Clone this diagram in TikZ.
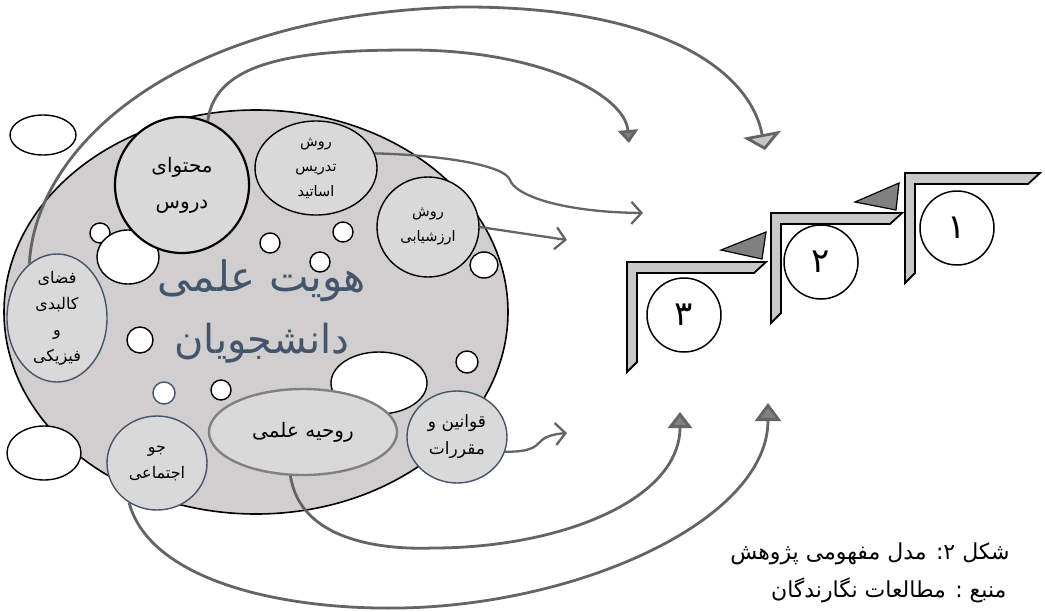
\documentclass[tikz,border=0pt]{standalone}
\usepackage{fontspec}
\usetikzlibrary{shapes.geometric,arrows.meta}
\newfontfamily\fafont[Script=Arabic]{DejaVu Sans}
\TeXXeTstate=1

\definecolor{bodygray}{RGB}{208,206,207}
\definecolor{topicgray}{RGB}{217,217,217}
\definecolor{slate}{RGB}{68,84,106}
\definecolor{linkgray}{RGB}{100,100,100}
\definecolor{tipgray}{RGB}{128,128,128}
\definecolor{stepgray}{RGB}{200,200,200}

\tikzset{
  hole/.style={ellipse,draw=black,fill=white,line width=1.4pt,inner sep=0pt},
  topic/.style={ellipse,fill=topicgray,line width=1.4pt,inner sep=0pt},
  lbl/.style={align=center,font=\fafont\fontsize{14.5}{25}\selectfont},
  biglbl/.style={align=center,font=\fafont\fontsize{16}{26}\selectfont},
  link/.style={draw=linkgray,line width=2.8pt},
}

\begin{document}
\begin{tikzpicture}[x=1pt,y=-1pt]
\useasboundingbox (0,0) rectangle (1045,611);

            % Main body
            \node[ellipse,draw=black,fill=bodygray,line width=1.6pt,minimum width=504,minimum height=404] (body) at (256,312) {};

            % White holes, inside and outside the body
            \foreach \x/\y/\rx/\ry [count=\i] in {
            43/135/33/20, 44/453/37/27,
            100/233/10/10, 128/257/31/27, 270/243/10/10, 320/262/10/10,
            343/232/10/10, 484/265/14/13, 140/340/13/13, 221/390/10/10,
            467/362/11/11, 379/383/48/31} {
            \node[hole,minimum width=2*\rx,minimum height=2*\ry] (h\i) at (\x,\y) {};
            }
            \node[hole,draw=slate,minimum size=22] (h13) at (164,393) {};

            % Topics
            \node[topic,draw=black,line width=2.2pt,minimum width=134,minimum height=136,
              label={[lbl,font=\fafont\fontsize{20}{36}\selectfont]center:{\beginR محتوای\endR\\\beginR دروس\endR}}] (mohtava) at (182,185) {};
            \node[topic,draw=black,minimum width=122,minimum height=94,
              label={[lbl]center:{\beginR روش\endR\\\beginR تدریس\endR\\\beginR اساتید\endR}}] (tadris) at (316,168) {};
            \node[topic,draw=black,minimum width=102,minimum height=100,
              label={[lbl]center:{\beginR روش\endR\\\beginR ارزشیابی\endR}}] (arzesh) at (428,227) {};
            \node[topic,draw=slate,minimum width=100,minimum height=128,
              label={[biglbl]center:{\beginR فضای\endR\\\beginR کالبدی\endR\\\beginR و\endR\\\beginR فیزیکی\endR}}] (fazaa) at (57,318) {};
            \node[topic,draw=slate,minimum width=100,minimum height=94,
              label={[biglbl]center:{\beginR جو\endR\\\beginR اجتماعی\endR}}] (jav) at (157,463) {};
            \node[topic,draw=tipgray,line width=2.4pt,minimum width=188,minimum height=86,
              label={[lbl,font=\fafont\fontsize{20}{24}\selectfont]center:{\beginR روحیه علمی\endR}}] (rouhie) at (303,432) {};
            \node[topic,draw=slate,minimum width=100,minimum height=92,
              label={[biglbl,font=\fafont\fontsize{17}{27}\selectfont]center:{\beginR قوانین و\endR\\\beginR مقررات\endR}}] (ghavanin) at (457,437) {};

            % Title
            \node[font=\fafont\fontsize{42}{50}\selectfont,text=slate] (title1) at (262,281) {\beginR هویت علمی\endR};
            \node[font=\fafont\fontsize{40}{50}\selectfont,text=slate] (title2) at (262,343) {\beginR دانشجویان\endR};

            % Steps
            \foreach \sx/\sy/\len/\cx/\cy/\num/\nm in {
            627/262/139/684/315/۳/s3,
            771/213/131/821/262/۲/s2,
            905/173/135/957/228/۱/s1} {
            \draw[fill=stepgray,line width=1.8pt,line join=miter]
              (\sx,\sy) -- ++(\len,0) -- ++(-12,11) -- (\sx+10,\sy+11)
              -- (\sx+10,\sy+100) -- (\sx,\sy+110) -- cycle;
            \node[circle,draw=black,fill=white,line width=1.5pt,minimum size=74,
              font=\fafont\fontsize{34}{38}\selectfont] (\nm) at (\cx,\cy) {\num};
            }
            \draw[fill=tipgray,line width=1.2pt] (721,250) -- (766,232) -- (762,259) -- cycle;
            \draw[fill=tipgray,line width=1.2pt] (855,202) -- (899,183) -- (896,210) -- cycle;

            % Arrow ends
            \coordinate (e1) at (629,143);
            \coordinate (e2) at (765,150);
            \coordinate (e3) at (643,213);
            \coordinate (e4) at (567,240);
            \coordinate (e5) at (567,433);
            \coordinate (e6) at (680,412);
            \coordinate (e7) at (768,403);

            % Arrows over the top
            \draw[link,-{Triangle[length=13pt,width=20pt,fill=tipgray]}] (mohtava.68)
              .. controls (215,60) and (300,50) .. (410,50) .. controls (540,50) and (625,95) .. (e1);
            \draw[link,-{Triangle[length=16pt,width=38pt,fill=stepgray]}] (fazaa.117)
              .. controls (35,150) and (170,15) .. (460,7) .. controls (660,6) and (750,70) .. (e2);

            % Arrows to the right
            \draw[link,line width=2.3pt,-{Straight Barb[length=10pt,width=22pt]}] (tadris.14)
              .. controls (440,155) and (505,165) .. (510,180) .. controls (515,195) and (560,212) .. (e3);
            \draw[link,line width=2.3pt,-{Straight Barb[length=10pt,width=22pt]}] (arzesh.east) -- (e4);
            \draw[link,line width=2.3pt,-{Straight Barb[length=10pt,width=22pt]}] (ghavanin.-17)
              .. controls (530,452) and (535,447) .. (540,442) .. controls (545,436) and (555,434) .. (e5);

            % Arrows under the bottom
            \draw[link,-{Triangle[length=16pt,width=24pt,fill=tipgray]}] (rouhie.254)
              .. controls (300,540) and (380,550) .. (433,548) .. controls (560,548) and (680,500) .. (e6);
            \draw[link,-{Triangle[length=18pt,width=26pt,fill=tipgray]}] (jav.235)
              .. controls (150,580) and (280,610) .. (400,608) .. controls (580,605) and (768,520) .. (e7);

            % Caption
            \node[anchor=east,font=\fafont\fontsize{22}{26}\selectfont] (cap1) at (1013,554) {\beginR شکل ۲: مدل مفهومی پژوهش\endR};
            \node[anchor=east,font=\fafont\fontsize{22}{26}\selectfont] (cap2) at (1010,590) {\beginR منبع : مطالعات نگارندگان\endR};

\end{tikzpicture}
\end{document}
